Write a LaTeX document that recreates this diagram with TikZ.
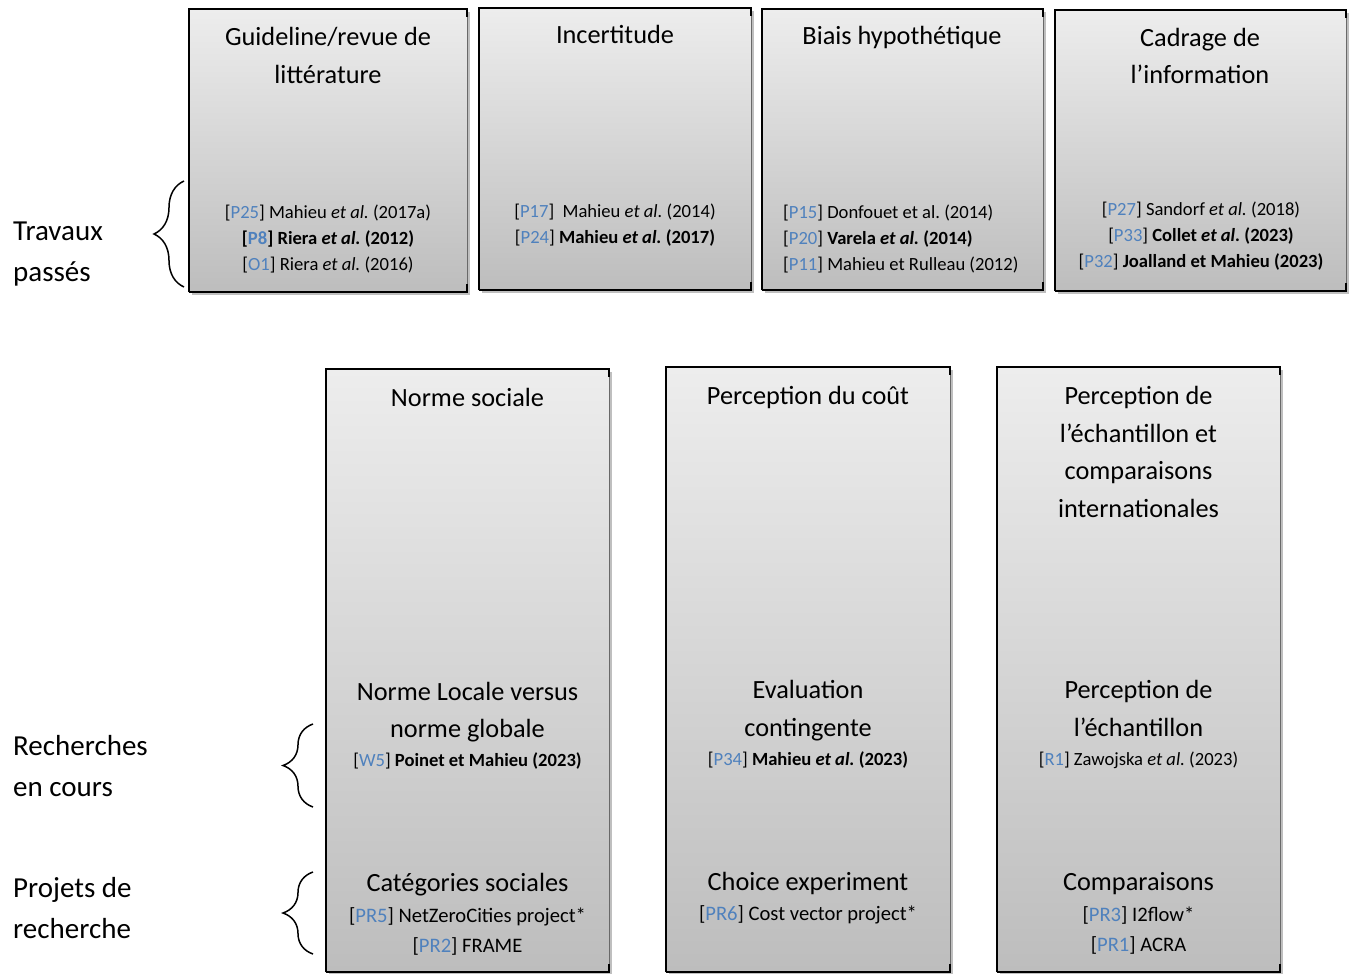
\documentclass[tikz,border=0pt]{standalone}
\usepackage{fontspec}
\setmainfont{Carlito}
\usetikzlibrary{shadows,decorations.pathreplacing}
\definecolor{refblue}{RGB}{79,129,189}
\definecolor{gtop}{RGB}{237,237,237}
\definecolor{gbot}{RGB}{189,189,189}
\definecolor{edgegray}{RGB}{105,105,105}
\newcommand{\rf}[1]{[\textcolor{refblue}{#1}]}
\newcommand{\etal}{{\itshape et al.}}
\begin{document}
\frenchspacing
\begin{tikzpicture}[x=1pt,y=-1pt,
  panel/.style={anchor=north west, inner sep=0, draw=none, top color=gtop, bottom color=gbot,
    drop shadow={shadow xshift=2.5pt, shadow yshift=-2.5pt, opacity=0.25, fill=black}},
  edgek/.style={line width=2pt, black},
  edgeg/.style={line width=1.4pt, edgegray},
  ttl/.style={font=\fontsize{26.3}{30}\selectfont\frenchspacing, anchor=base, inner sep=0},
  cit/.style={font=\fontsize{18.6}{22}\selectfont\frenchspacing, anchor=base, inner sep=0},
  citw/.style={font=\fontsize{18.6}{22}\selectfont\frenchspacing, anchor=base west, inner sep=0},
  prj/.style={font=\fontsize{20.6}{24}\selectfont\frenchspacing, anchor=base, inner sep=0},
  sid/.style={font=\fontsize{29}{33}\selectfont, anchor=base west, inner sep=0},
  bracesty/.style={decorate, decoration={brace, amplitude=30pt}, line width=1.5pt}]
\useasboundingbox[fill=white] (0,0) rectangle (1354,974);

% panels
\node[panel, minimum width=278pt, minimum height=283pt] (b1) at (189,9) {};
\node[panel, minimum width=272pt, minimum height=282pt] (b2) at (479,8) {};
\node[panel, minimum width=281pt, minimum height=281pt] (b3) at (762,9) {};
\node[panel, minimum width=291pt, minimum height=281pt] (b4) at (1055,10) {};
\node[panel, minimum width=283pt, minimum height=603pt] (b5) at (326,369) {};
\node[panel, minimum width=284pt, minimum height=605pt] (b6) at (666,367) {};
\node[panel, minimum width=283pt, minimum height=605pt] (b7) at (997,367) {};

\foreach \b in {b1,b2,b3,b4,b5,b6,b7}{
  \draw[edgeg] (\b.north east) -- (\b.south east);
  \draw[edgek] (\b.south west) -- (\b.north west) -- (\b.north east) -- ++(0,8);
  \draw[edgek] (\b.south west) -- (\b.south east) -- ++(0,-8);
}

% box 1
\node[ttl] (t1a) at (328,46) {Guideline/revue de};
\node[ttl] (t1b) at (328,83) {littérature};
\node[cit] (c1a) at (328,218) {\rf{P25} Mahieu \etal{} (2017a)};
\node[cit] (c1b) at (328,244) {\bfseries [\textcolor{refblue}{P8}] Riera \etal{} (2012)};
\node[cit] (c1c) at (328,270) {\rf{O1} Riera \etal{} (2016)};

% box 2
\node[ttl] (t2a) at (615,44) {Incertitude};
\node[cit] (c2a) at (615,217) {\rf{P17}\ \ Mahieu \etal{} (2014)};
\node[cit] (c2b) at (615,243) {\rf{P24} {\bfseries Mahieu \etal{} (2017)}};

% box 3
\node[ttl] (t3a) at (902,45) {Biais hypothétique};
\node[citw] (c3a) at (783,218) {\rf{P15} Donfouet et al. (2014)};
\node[citw] (c3b) at (783,244) {\rf{P20} {\bfseries Varela \etal{} (2014)}};
\node[citw] (c3c) at (783,270) {\rf{P11} Mahieu et Rulleau (2012)};

% box 4
\node[ttl] (t4a) at (1200,47) {Cadrage de};
\node[ttl] (t4b) at (1200,84) {l’information};
\node[cit] (c4a) at (1201,215) {\rf{P27} Sandorf \etal{} (2018)};
\node[cit] (c4b) at (1201,241) {\rf{P33} {\bfseries Collet \etal{} (2023)}};
\node[cit] (c4c) at (1201,267) {\rf{P32} {\bfseries Joalland et Mahieu (2023)}};

% box 5
\node[ttl] (t5a) at (467.5,406) {Norme sociale};
\node[ttl] (t5b) at (467.5,700) {Norme Locale versus};
\node[ttl] (t5c) at (467.5,737) {norme globale};
\node[cit] (c5a) at (467.5,766) {\rf{W5} {\bfseries Poinet et Mahieu (2023)}};
\node[ttl] (t5d) at (467.5,891) {Catégories sociales};
\node[prj] (p5a) at (467.5,922) {\rf{PR5} NetZeroCities project*};
\node[prj] (p5b) at (467.5,952) {\rf{PR2} FRAME};

% box 6
\node[ttl] (t6a) at (808,404) {Perception du coût};
\node[ttl] (t6b) at (808,698) {Evaluation};
\node[ttl] (t6c) at (808,736) {contingente};
\node[cit] (c6a) at (808,765) {\rf{P34} {\bfseries Mahieu \etal{} (2023)}};
\node[ttl] (t6d) at (808,890) {Choice experiment};
\node[prj] (p6a) at (808,920) {\rf{PR6} Cost vector project*};

% box 7
\node[ttl] (t7a) at (1138.5,404) {Perception de};
\node[ttl] (t7b) at (1138.5,442) {l’échantillon et};
\node[ttl] (t7c) at (1138.5,479) {comparaisons};
\node[ttl] (t7d) at (1138.5,517) {internationales};
\node[ttl] (t7e) at (1138.5,698) {Perception de};
\node[ttl] (t7f) at (1138.5,736) {l’échantillon};
\node[cit] (c7a) at (1138.5,765) {\rf{R1} Zawojska \etal{} (2023)};
\node[ttl] (t7g) at (1138.5,890) {Comparaisons};
\node[prj] (p7a) at (1138.5,921) {\rf{PR3} I2flow*};
\node[prj] (p7b) at (1138.5,951) {\rf{PR1} ACRA};

% side labels
\node[sid] (s1a) at (13,240) {Travaux};
\node[sid] (s1b) at (13,281) {passés};
\node[sid] (s2a) at (13,755) {Recherches};
\node[sid] (s2b) at (13,796) {en cours};
\node[sid] (s3a) at (13,897) {Projets de};
\node[sid] (s3b) at (13,938) {recherche};

% braces
\coordinate (br1a) at (184,287);
\coordinate (br1b) at (184,181);
\coordinate (br2a) at (313,807);
\coordinate (br2b) at (313,724);
\coordinate (br3a) at (313,954);
\coordinate (br3b) at (313,872);
\draw[bracesty] (br1a) -- (br1b);
\draw[bracesty] (br2a) -- (br2b);
\draw[bracesty] (br3a) -- (br3b);
\end{tikzpicture}
\end{document}
